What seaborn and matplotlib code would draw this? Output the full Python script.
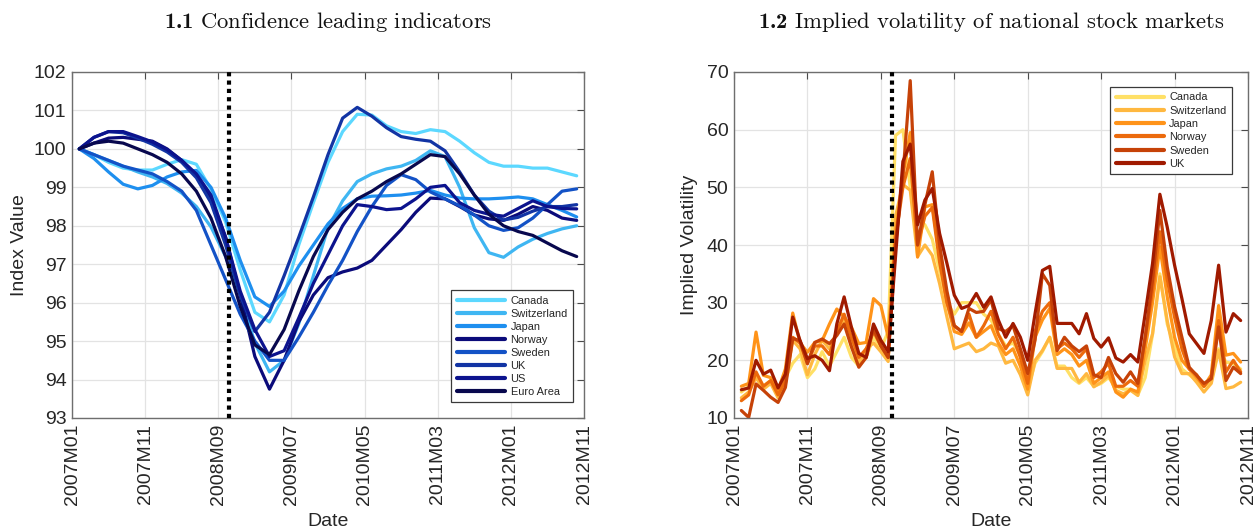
import numpy as np
import pandas as pd
import matplotlib
matplotlib.use("Agg")
import matplotlib.pyplot as plt
import seaborn as sns

# ---------------- data ----------------
tick_labels = ["2007M01", "2007M11", "2008M09", "2009M07", "2010M05", "2011M03", "2012M01", "2012M11"]

cli_countries = ["Canada", "Switzerland", "Japan", "Norway", "Sweden", "UK", "US", "Euro Area"]
cli_dates = pd.period_range("2007-02", "2012-10", freq="2M")  # every other month

cli_canada = [100, 99.85, 99.65, 99.5, 99.45, 99.45, 99.6, 99.72, 99.6, 98.95, 98.1, 96.85, 95.75, 95.5, 96.2,
              97.5, 98.6, 99.65, 100.45, 100.9, 100.88, 100.6, 100.45, 100.4, 100.5, 100.45, 100.2, 99.9, 99.65,
              99.55, 99.55, 99.5, 99.5, 99.4, 99.3]
cli_switzerland = [100, 99.85, 99.7, 99.55, 99.4, 99.27, 99.1, 98.85, 98.5, 97.97, 97.2, 96.2, 94.95, 94.2, 94.5,
                   95.45, 96.7, 97.95, 98.65, 99.15, 99.35, 99.48, 99.55, 99.7, 99.95, 99.8, 99.0, 97.95, 97.3,
                   97.18, 97.45, 97.65, 97.8, 97.92, 98.0]
cli_japan = [100, 99.75, 99.4, 99.08, 98.96, 99.05, 99.27, 99.4, 99.44, 99.0, 98.2, 97.1, 96.15, 95.9, 96.3,
             96.95, 97.5, 98.05, 98.45, 98.7, 98.77, 98.78, 98.8, 98.85, 98.92, 98.8, 98.72, 98.7, 98.7,
             98.72, 98.75, 98.7, 98.55, 98.4, 98.23]
cli_norway = [100, 100.15, 100.28, 100.3, 100.25, 100.2, 100.0, 99.7, 99.3, 98.7, 97.7, 96.2, 94.6, 93.75, 94.5,
              95.5, 96.2, 96.65, 96.8, 96.9, 97.1, 97.5, 97.9, 98.35, 98.72, 98.7, 98.5, 98.28, 98.18,
              98.14, 98.3, 98.5, 98.4, 98.2, 98.14]
cli_sweden = [100, 99.85, 99.7, 99.55, 99.45, 99.35, 99.15, 98.9, 98.4, 97.5, 96.6, 95.7, 95.0, 94.5, 94.5,
              95.1, 95.75, 96.45, 97.1, 97.85, 98.5, 99.05, 99.33, 99.2, 98.88, 98.7, 98.52, 98.28, 98.0,
              97.88, 97.95, 98.2, 98.55, 98.9, 98.96]
cli_uk = [100, 100.3, 100.45, 100.42, 100.28, 100.12, 99.92, 99.65, 99.25, 98.6, 97.5, 96.2, 95.25, 95.75, 96.7,
          97.7, 98.75, 99.85, 100.8, 101.08, 100.85, 100.55, 100.32, 100.25, 100.2, 99.95, 99.4, 98.8, 98.38,
          98.15, 98.22, 98.38, 98.5, 98.5, 98.55]
cli_us = [100, 100.3, 100.45, 100.45, 100.32, 100.18, 99.98, 99.7, 99.35, 98.8, 97.7, 96.3, 95.3, 94.6, 94.75,
          95.6, 96.5, 97.25, 98.0, 98.55, 98.5, 98.42, 98.45, 98.7, 99.0, 99.05, 98.6, 98.4, 98.3,
          98.25, 98.45, 98.65, 98.5, 98.45, 98.44]
cli_euro = [100, 100.15, 100.2, 100.15, 100.0, 99.85, 99.65, 99.35, 98.9, 98.2, 97.2, 95.9, 94.9, 94.65, 95.3,
            96.3, 97.2, 97.9, 98.35, 98.7, 98.9, 99.15, 99.35, 99.6, 99.85, 99.8, 99.35, 98.8, 98.3,
            98.0, 97.85, 97.75, 97.55, 97.35, 97.2]

vol_countries = ["Canada", "Switzerland", "Japan", "Norway", "Sweden", "UK"]
vol_dates = pd.period_range("2007-02", "2012-10", freq="M")

vol_canada = [14.5, 15.5, 17.5, 15.5, 16.5, 14, 17, 19.5, 21, 17, 18.5, 21.5, 19, 21.5, 24, 20.5, 19, 20.5, 24, 22, 25,
              59, 60, 50, 44.5, 43.5, 41, 35.5, 30, 28, 30, 30, 30, 28, 27, 24.5, 22.5, 23, 21, 15,
              19.5, 21.5, 24, 19, 19, 17, 16, 17, 15.5, 16, 17, 15.5, 15, 15, 14, 17, 24.5, 35, 26.3, 22.3,
              18.5, 17.5, 16.5, 15.4, 16.5, 22, 19.7, 19.4, 18.5]
vol_switzerland = [13.5, 14.5, 17, 15, 16, 13.5, 16, 23.5, 22, 17.5, 21, 23.5, 22, 25, 27, 22.5, 19.5, 22, 23, 21.5, 19.8,
                   45, 50.5, 49.5, 38, 40, 38.2, 33.3, 27.5, 22, 22.5, 23, 21.5, 22, 23, 22.5, 19.5, 20, 17.5, 14,
                   20, 21.7, 24, 18.6, 18.6, 18.6, 16.2, 17.7, 15.4, 16.2, 17.4, 14.8, 14.2, 14.8, 13.9, 20, 24.6, 34.5, 26.9, 20.6,
                   17.7, 17.7, 16.2, 14.5, 16, 21.7, 15.1, 15.4, 16.2]
vol_japan = [15.5, 16, 24.9, 17.4, 17, 14.8, 18.5, 28.2, 23, 21.4, 23.1, 23.4, 26.3, 28.9, 27.5, 25.7, 22.9, 23.1, 30.7, 29.5, 24,
             42, 52, 59.5, 37.9, 46.6, 47, 38, 30, 25, 24.5, 26.5, 24, 25, 26, 23, 21, 22, 19, 15,
             24, 27, 29, 21, 22, 21, 19, 20, 16, 17, 18, 14.5, 13.6, 15, 14.5, 22, 30, 39.7, 31, 24,
             20, 18.5, 17, 15.5, 17.5, 29.5, 20.9, 21.2, 19.7]
vol_norway = [13, 14, 18, 15.5, 16.5, 14, 16.5, 24, 23, 19.5, 22.5, 22.5, 21, 25, 28, 24, 20.5, 22, 25, 22.5, 20.5,
              41, 50, 55, 40, 45, 46.5, 37, 30, 26, 25, 28, 24, 26, 28.5, 24.5, 22, 24, 20.5, 16,
              25, 28.5, 30, 22, 23, 22, 20.5, 22, 17, 18, 19.5, 15.5, 15.5, 16.5, 15.5, 24, 32, 42.3, 34, 27.5,
              22, 18.5, 17.5, 15.5, 17, 26.9, 18, 20, 18]
vol_sweden = [11.3, 10.1, 15.9, 14.8, 13.6, 12.7, 15.3, 23.8, 23.4, 19.4, 23.1, 23.7, 22.9, 24.3, 26.3, 22.3, 18.8, 20.5, 25.5, 22.5, 20.5,
              40, 52, 68.5, 40, 47, 52.7, 40, 32, 26, 25, 29, 28.3, 28.5, 30.5, 25.5, 25, 26, 22, 17.7,
              23.5, 35, 33, 21.7, 24, 22.5, 21.5, 22.5, 17.5, 17, 20.5, 17.7, 16.2, 18, 16, 24, 33.9, 46, 36.2, 29.3,
              24, 18.8, 17.4, 16, 16.8, 25.8, 16.5, 18.8, 17.7]
vol_uk = [14.9, 15.2, 20.0, 17.6, 18.3, 15.2, 17.6, 27.5, 23.4, 20.3, 20.8, 20.0, 18.2, 26.3, 31.0, 25.7, 21.2, 20.5, 26.3, 23.5, 21.5,
          38.0, 54.5, 57.5, 43.5, 47.8, 49.8, 42.0, 36.8, 31.3, 29.0, 29.5, 31.6, 29.2, 31.0, 27.0, 24.0, 26.4, 24.0, 20.0,
          28.1, 35.6, 36.3, 26.4, 26.4, 26.4, 24.6, 28.1, 23.8, 22.3, 23.9, 20.4, 19.7, 21.0, 19.7, 28.1, 36.8, 48.8, 43.1, 36.5,
          30.7, 24.6, 22.9, 21.2, 26.9, 36.5, 24.9, 28.1, 26.9]

crisis_month = 21.5  # crisis marker (months since 2007M01)

cli_colors = ["#5CD8FF", "#3FB6F2", "#1E8FEF", "#0B0B7A", "#1352C6", "#1234A4", "#0C138E", "#08084E"]
vol_colors = ["#FFE066", "#FFB840", "#FF9319", "#EC6A0C", "#C64208", "#A01A00"]


def month_index(periods):
    return [(p.year - 2007) * 12 + (p.month - 1) for p in periods]


cli_series = [cli_canada, cli_switzerland, cli_japan, cli_norway, cli_sweden, cli_uk, cli_us, cli_euro]
vol_series = [vol_canada, vol_switzerland, vol_japan, vol_norway, vol_sweden, vol_uk]

cli_df = pd.concat([pd.DataFrame({"month": month_index(cli_dates), "value": v, "country": c})
                    for c, v in zip(cli_countries, cli_series)], ignore_index=True)
vol_df = pd.concat([pd.DataFrame({"month": month_index(vol_dates), "value": v, "country": c})
                    for c, v in zip(vol_countries, vol_series)], ignore_index=True)

# ---------------- style ----------------
sns.set_theme(style="whitegrid")
plt.rcParams["font.family"] = ["Liberation Sans", "DejaVu Sans"]
plt.rcParams["mathtext.fontset"] = "custom"
plt.rcParams["mathtext.rm"] = "cmr10"
plt.rcParams["mathtext.bf"] = "cmb10"
plt.rcParams["axes.formatter.use_mathtext"] = False

fig = plt.figure(figsize=(12.55, 5.29), dpi=100)
ax1 = fig.add_axes([72 / 1255, 1 - 418 / 529, 512 / 1255, 346 / 529])
ax2 = fig.add_axes([734 / 1255, 1 - 418 / 529, 514 / 1255, 346 / 529])

sns.lineplot(data=cli_df, x="month", y="value", hue="country", hue_order=cli_countries,
             palette=cli_colors, linewidth=2.3, ax=ax1, sort=True)
sns.lineplot(data=vol_df, x="month", y="value", hue="country", hue_order=vol_countries,
             palette=vol_colors, linewidth=2.3, ax=ax2, sort=True)

for ax in (ax1, ax2):
    ax.axvline(crisis_month, color="black", linestyle=(0, (1, 1)), linewidth=3, zorder=5)
    ax.set_xlim(0, 70)
    ax.set_xticks(range(0, 71, 10))
    ax.set_xticklabels(tick_labels, rotation=90)
    ax.set_facecolor("white")
    ax.grid(True, color="#e3e3e3", linewidth=0.9)
    ax.tick_params(direction="in", length=5, width=0.8, color="#4a4a4a", top=True, right=True,
                   labelsize=14, labelcolor="#262626", pad=4)
    for s in ax.spines.values():
        s.set_visible(True)
        s.set_color("#6e6e6e")
        s.set_linewidth(1.0)
    ax.set_xlabel("Date", fontsize=14, color="#262626", labelpad=6)

ax1.set_ylim(93, 102)
ax1.set_yticks(range(93, 103))
ax1.set_ylabel("Index Value", fontsize=14, color="#262626", labelpad=4)
ax2.set_ylim(10, 70)
ax2.set_yticks(range(10, 71, 10))
ax2.set_ylabel("Implied Volatility", fontsize=14, color="#262626", labelpad=6)

leg1 = ax1.legend(loc="lower right", bbox_to_anchor=(0.979, 0.046), borderaxespad=0, fontsize=7.9,
                  handlelength=4.4, labelspacing=0.27, handletextpad=0.5, borderpad=0.5,
                  fancybox=False, framealpha=1, edgecolor="#3a3a3a", title=None)
leg2 = ax2.legend(loc="upper right", bbox_to_anchor=(0.969, 0.957), borderaxespad=0, fontsize=7.9,
                  handlelength=4.4, labelspacing=0.3, handletextpad=0.5, borderpad=0.5,
                  fancybox=False, framealpha=1, edgecolor="#3a3a3a", title=None)
for leg in (leg1, leg2):
    leg.get_frame().set_linewidth(0.9)
    for line in leg.get_lines():
        line.set_linewidth(3)
    for t in leg.get_texts():
        t.set_color("#262626")

fig.text(328 / 1255, 1 - 22 / 529, r"$\mathbf{1.1}\ \mathrm{Confidence\ leading\ indicators}$",
         ha="center", va="center", fontsize=16.3, color="#111111")
fig.text(991 / 1255, 1 - 22 / 529, r"$\mathbf{1.2}\ \mathrm{Implied\ volatility\ of\ national\ stock\ markets}$",
         ha="center", va="center", fontsize=16.3, color="#111111")

fig.savefig("out.png", dpi=100, facecolor="white")
